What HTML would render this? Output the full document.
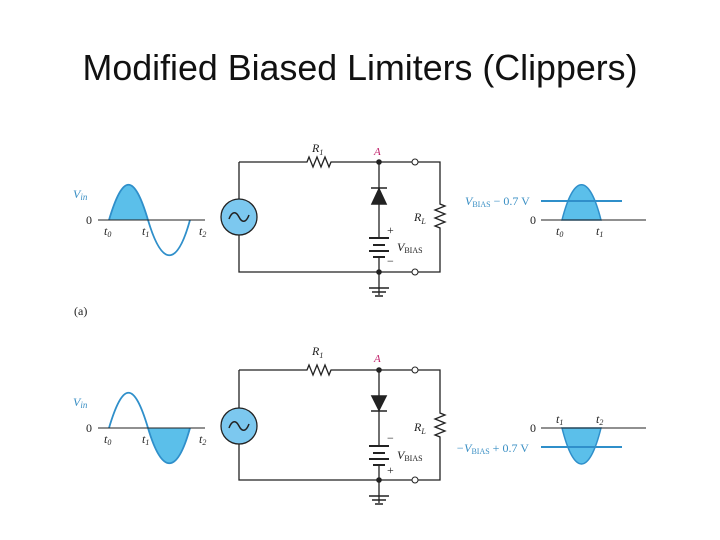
<!DOCTYPE html>
<html><head><meta charset="utf-8"><style>
body{margin:0;background:#fff;width:720px;height:540px;overflow:hidden}
svg{display:block}
.w{stroke:#222;stroke-width:1.3;fill:none}
.s{font-family:"Liberation Serif",serif;font-size:12px;fill:#222}
.b{font-family:"Liberation Serif",serif;font-size:12px;fill:#3a8fc4}
</style></head><body>
<svg width="720" height="540" viewBox="0 0 720 540">
<text x="360" y="80" text-anchor="middle" font-family="Liberation Sans,sans-serif" font-size="36" fill="#111" textLength="555" lengthAdjust="spacingAndGlyphs">Modified Biased Limiters (Clippers)</text>
<text x="74" y="315" class="s">(a)</text>

<!-- TOP -->
<g>
<path class="w" d="M239 162H307l2-5 4 10 4-10 4 10 4-10 4 10 2-5H440V204l5 2-10 4 10 4-10 4 10 4-10 4 5 2V272H239V235M239 199V162"/>
<circle cx="239" cy="217" r="18" fill="#7cc8ef" stroke="#222" stroke-width="1.3"/>
<path d="M229 219c3-8 7-8 10-2s7 6 10-2" stroke="#222" stroke-width="1.5" fill="none"/>
<path class="w" d="M379 162V238M379 257V295"/>
<path d="M371 188H387M372 204L379 189L386 204Z" stroke="#222" stroke-width="1.6" fill="#222"/>
<path d="M369 238H389M373 245H385M369 251H389M373 257H385" stroke="#222" stroke-width="2"/>
<path d="M369 288H389M372 292H386M375 296H383" stroke="#222" stroke-width="1.6"/>
<circle cx="379" cy="162" r="2.8" fill="#222"/><circle cx="379" cy="272" r="2.8" fill="#222"/>
<circle cx="415" cy="162" r="3" fill="#fff" stroke="#222"/><circle cx="415" cy="272" r="3" fill="#fff" stroke="#222"/>
<text x="312" y="152" class="s" font-style="italic">R<tspan font-size="8" dy="3">1</tspan></text>
<text x="374" y="155" font-family="Liberation Serif,serif" font-style="italic" font-size="11" fill="#c0206a">A</text>
<text x="414" y="221" class="s" font-style="italic">R<tspan font-size="8" dy="3">L</tspan></text>
<text x="387" y="234" class="s" font-size="10">+</text>
<text x="397" y="251" class="s" font-style="italic">V<tspan font-size="8" font-style="normal" dy="2">BIAS</tspan></text>
<text x="387" y="265" class="s" font-size="10">−</text>
<path d="M109 220C123 173 134 173 148 220Z" fill="#5bbfea"/>
<path d="M109 220C123 173 134 173 148 220S177 267 190 220" stroke="#2f8fca" stroke-width="1.8" fill="none"/>
<path d="M98 220H205" stroke="#222" stroke-width="1"/>
<text x="73" y="198" class="b" font-style="italic">V<tspan font-size="9" dy="2">in</tspan></text>
<text x="86" y="224" class="s">0</text>
<text x="104" y="235" class="s" font-style="italic">t<tspan font-size="8" dy="2">0</tspan></text>
<text x="142" y="235" class="s" font-style="italic">t<tspan font-size="8" dy="2">1</tspan></text>
<text x="199" y="235" class="s" font-style="italic">t<tspan font-size="8" dy="2">2</tspan></text>
<path d="M562 220C574 173 589 173 601 220Z" fill="#5bbfea" stroke="#2f8fca" stroke-width="1.5"/>
<path d="M541 201H622" stroke="#2f8fca" stroke-width="2"/>
<path d="M541 220H646" stroke="#222" stroke-width="1"/>
<text x="465" y="205" class="b" font-style="italic">V<tspan font-size="8" font-style="normal" dy="2">BIAS</tspan><tspan dy="-2" font-style="normal"> − 0.7 V</tspan></text>
<text x="530" y="224" class="s">0</text>
<text x="556" y="235" class="s" font-style="italic">t<tspan font-size="8" dy="2">0</tspan></text>
<text x="596" y="235" class="s" font-style="italic">t<tspan font-size="8" dy="2">1</tspan></text>
</g>

<!-- BOTTOM -->
<g>
<path class="w" d="M239 370H307l2-5 4 10 4-10 4 10 4-10 4 10 2-5H440V413l5 2-10 4 10 4-10 4 10 4-10 4 5 2V480H239V444M239 408V370"/>
<circle cx="239" cy="426" r="18" fill="#7cc8ef" stroke="#222" stroke-width="1.3"/>
<path d="M229 428c3-8 7-8 10-2s7 6 10-2" stroke="#222" stroke-width="1.5" fill="none"/>
<path class="w" d="M379 370V446M379 465V503"/>
<path d="M371 411H387M372 396L379 410L386 396Z" stroke="#222" stroke-width="1.6" fill="#222"/>
<path d="M369 446H389M373 453H385M369 459H389M373 465H385" stroke="#222" stroke-width="2"/>
<path d="M369 496H389M372 500H386M375 504H383" stroke="#222" stroke-width="1.6"/>
<circle cx="379" cy="370" r="2.8" fill="#222"/><circle cx="379" cy="480" r="2.8" fill="#222"/>
<circle cx="415" cy="370" r="3" fill="#fff" stroke="#222"/><circle cx="415" cy="480" r="3" fill="#fff" stroke="#222"/>
<text x="312" y="355" class="s" font-style="italic">R<tspan font-size="8" dy="3">1</tspan></text>
<text x="374" y="362" font-family="Liberation Serif,serif" font-style="italic" font-size="11" fill="#c0206a">A</text>
<text x="414" y="431" class="s" font-style="italic">R<tspan font-size="8" dy="3">L</tspan></text>
<text x="387" y="442" class="s" font-size="10">−</text>
<text x="397" y="459" class="s" font-style="italic">V<tspan font-size="8" font-style="normal" dy="2">BIAS</tspan></text>
<text x="387" y="474" class="s" font-size="10">+</text>
<path d="M148 428C162 475 176 475 190 428Z" fill="#5bbfea"/>
<path d="M109 428C123 381 134 381 148 428S177 475 190 428" stroke="#2f8fca" stroke-width="1.8" fill="none"/>
<path d="M98 428H205" stroke="#222" stroke-width="1"/>
<text x="73" y="406" class="b" font-style="italic">V<tspan font-size="9" dy="2">in</tspan></text>
<text x="86" y="432" class="s">0</text>
<text x="104" y="443" class="s" font-style="italic">t<tspan font-size="8" dy="2">0</tspan></text>
<text x="142" y="443" class="s" font-style="italic">t<tspan font-size="8" dy="2">1</tspan></text>
<text x="199" y="443" class="s" font-style="italic">t<tspan font-size="8" dy="2">2</tspan></text>
<path d="M562 428C574 476 589 476 601 428Z" fill="#5bbfea" stroke="#2f8fca" stroke-width="1.5"/>
<path d="M541 447H622" stroke="#2f8fca" stroke-width="2"/>
<path d="M541 428H646" stroke="#222" stroke-width="1"/>
<text x="456" y="452" class="b" font-style="italic">−V<tspan font-size="8" font-style="normal" dy="2">BIAS</tspan><tspan dy="-2" font-style="normal"> + 0.7 V</tspan></text>
<text x="530" y="432" class="s">0</text>
<text x="556" y="423" class="s" font-style="italic">t<tspan font-size="8" dy="2">1</tspan></text>
<text x="596" y="423" class="s" font-style="italic">t<tspan font-size="8" dy="2">2</tspan></text>
</g>
</svg>
</body></html>
